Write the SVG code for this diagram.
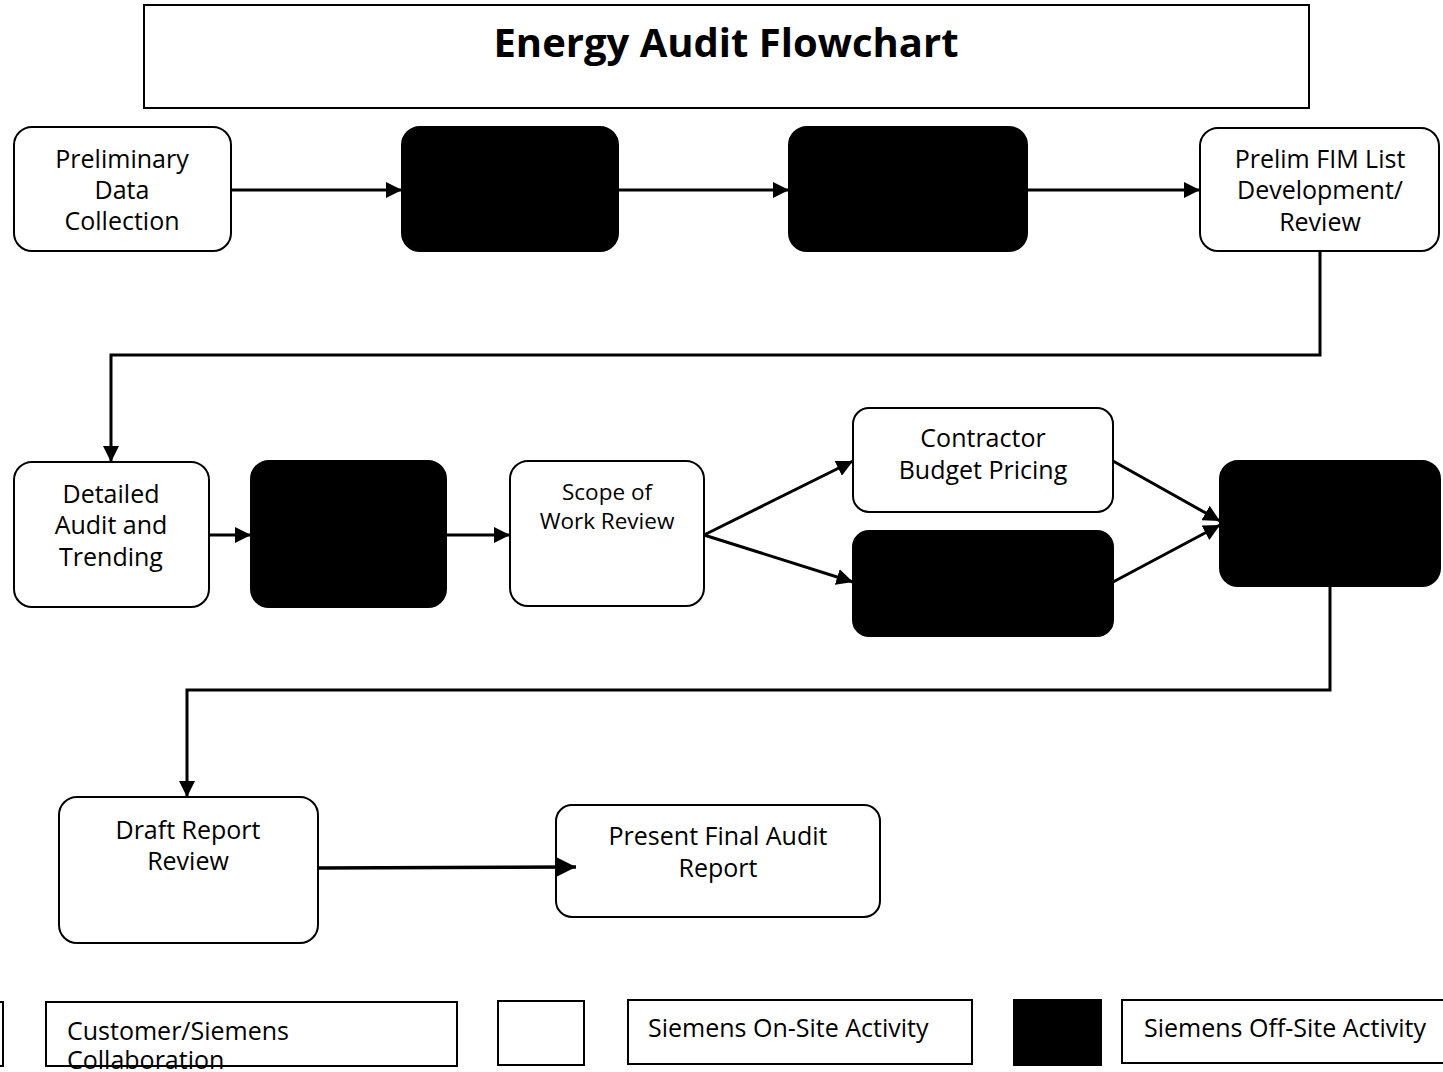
<svg xmlns="http://www.w3.org/2000/svg" width="1443" height="1072" viewBox="0 0 1443 1072">
<style>
  .node{fill:#fff;stroke:#000;stroke-width:2}
  .dark{fill:#000;stroke:#000;stroke-width:2}
  .t{font-family:"Open Sans","Liberation Sans",sans-serif;font-size:25px;fill:#000;text-anchor:middle}
  .lt{font-family:"Open Sans","Liberation Sans",sans-serif;font-size:25px;fill:#000}
  .c{fill:none;stroke:#000;stroke-width:3}
  .box{fill:#fff;stroke:#000;stroke-width:2}
</style>
<defs>
  <marker id="ah" viewBox="0 0 10 10" refX="10" refY="5" markerWidth="5.5" markerHeight="5.5" markerUnits="strokeWidth" orient="auto">
    <path d="M0,0 L10,5 L0,10 Z" fill="#000"/>
  </marker>
</defs>
<rect width="1443" height="1072" fill="#fff"/>
<g id="title">
  <rect class="box" x="144" y="5" width="1165" height="103"/>
  <text x="726" y="57" text-anchor="middle" font-family="'Open Sans','Liberation Sans',sans-serif" font-size="40" font-weight="bold">Energy Audit Flowchart</text>
</g>
<g id="n1">
  <rect class="node" x="14" y="127" width="217" height="124" rx="18"/>
  <text class="t" x="122" y="168">Preliminary</text>
  <text class="t" x="122" y="199">Data</text>
  <text class="t" x="122" y="230">Collection</text>
</g>
<g id="n2"><rect class="dark" x="402" y="127" width="216" height="124" rx="18"/></g>
<g id="n3"><rect class="dark" x="789" y="127" width="238" height="124" rx="18"/></g>
<g id="n4">
  <rect class="node" x="1200" y="128" width="239" height="123" rx="18"/>
  <text class="t" x="1320" y="168">Prelim FIM List</text>
  <text class="t" x="1320" y="199">Development/</text>
  <text class="t" x="1320" y="231">Review</text>
</g>
<g id="n5">
  <rect class="node" x="14" y="462" width="195" height="145" rx="18"/>
  <text class="t" x="111" y="503">Detailed</text>
  <text class="t" x="111" y="534">Audit and</text>
  <text class="t" x="111" y="566">Trending</text>
</g>
<g id="n6"><rect class="dark" x="251" y="461" width="195" height="146" rx="18"/></g>
<g id="n7">
  <rect class="node" x="510" y="461" width="194" height="145" rx="18"/>
  <text class="t" x="607" y="500" style="font-size:22.5px">Scope of</text>
  <text class="t" x="607" y="529" style="font-size:22.5px">Work Review</text>
</g>
<g id="n8">
  <rect class="node" x="853" y="408" width="260" height="104" rx="16"/>
  <text class="t" x="983" y="447">Contractor</text>
  <text class="t" x="983" y="479">Budget Pricing</text>
</g>
<g id="n9"><rect class="dark" x="853" y="531" width="260" height="105" rx="16"/></g>
<g id="n10"><rect class="dark" x="1220" y="461" width="220" height="125" rx="18"/></g>
<g id="n11">
  <rect class="node" x="59" y="797" width="259" height="146" rx="18"/>
  <text class="t" x="188" y="839">Draft Report</text>
  <text class="t" x="188" y="870">Review</text>
</g>
<g id="n12">
  <rect class="node" x="556" y="805" width="324" height="112" rx="16"/>
  <text class="t" x="718" y="845">Present Final Audit</text>
  <text class="t" x="718" y="877">Report</text>
</g>
<g id="connectors">
  <line class="c" x1="231" y1="190" x2="402" y2="190" marker-end="url(#ah)"/>
  <line class="c" x1="618" y1="190" x2="789" y2="190" marker-end="url(#ah)"/>
  <line class="c" x1="1027" y1="190" x2="1200" y2="190" marker-end="url(#ah)"/>
  <polyline class="c" points="1320,251 1320,355 111,355 111,462" marker-end="url(#ah)"/>
  <line class="c" x1="209" y1="535" x2="251" y2="535" marker-end="url(#ah)"/>
  <line class="c" x1="446" y1="535" x2="510" y2="535" marker-end="url(#ah)"/>
  <line class="c" x1="704" y1="535" x2="853" y2="461" marker-end="url(#ah)"/>
  <line class="c" x1="704" y1="535" x2="853" y2="582" marker-end="url(#ah)"/>
  <line class="c" x1="1113" y1="461" x2="1220" y2="521" marker-end="url(#ah)"/>
  <line class="c" x1="1113" y1="582" x2="1220" y2="525" marker-end="url(#ah)"/>
  <polyline class="c" points="1330,586 1330,690 187,690 187,797" marker-end="url(#ah)"/>
  <line x1="318" y1="868" x2="576" y2="867" stroke="#000" stroke-width="3.5" marker-end="url(#ah)"/>
</g>
<g id="legend">
  <rect class="box" x="-80" y="1002" width="83" height="64"/>
  <rect class="box" x="46" y="1002" width="411" height="64"/>
  <text class="lt" x="67" y="1040">Customer/Siemens</text>
  <text class="lt" x="67" y="1069">Collaboration</text>
  <rect class="box" x="498" y="1001" width="86" height="64"/>
  <rect class="box" x="628" y="1000" width="344" height="64"/>
  <text class="lt" x="648" y="1037">Siemens On-Site Activity</text>
  <rect class="dark" x="1014" y="1000" width="87" height="65"/>
  <rect class="box" x="1122" y="1000" width="340" height="63"/>
  <text class="lt" x="1144" y="1037">Siemens Off-Site Activity</text>
</g>
</svg>
